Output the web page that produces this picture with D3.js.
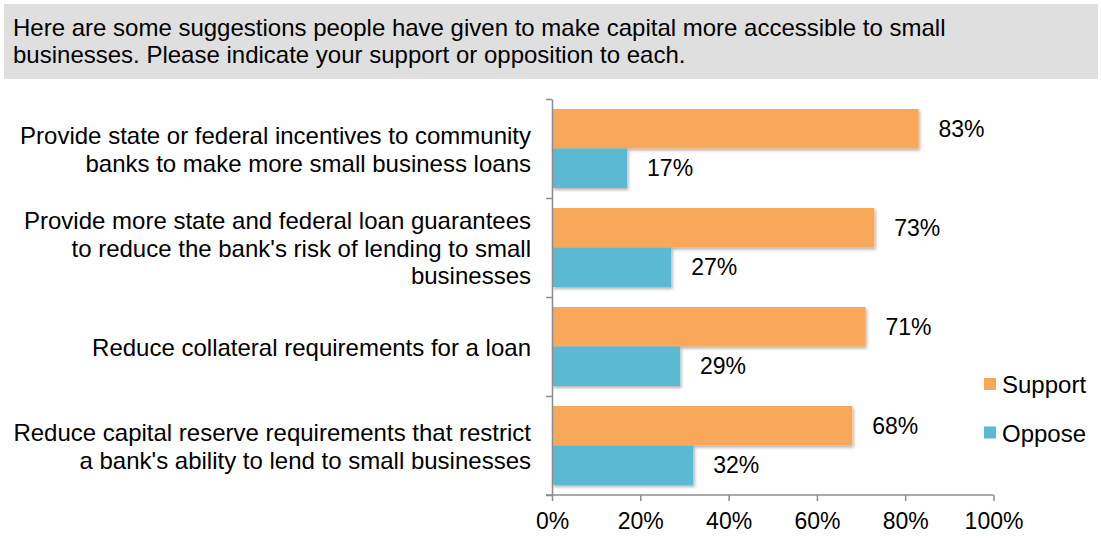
<!DOCTYPE html>
<html>
<head>
<meta charset="utf-8">
<script src="https://cdn.jsdelivr.net/npm/d3@7"></script>
<style>
  body { margin: 0; background: #fff; }
  svg text { font-family: "Liberation Sans", Arial, Helvetica, sans-serif; fill: #000; }
</style>
</head>
<body>
<div id="chart"></div>
<script>
// chart data
var categories = [
  ["Provide state or federal incentives to community", "banks to make more small business loans"],
  ["Provide more state and federal loan guarantees", "to reduce the bank's risk of lending to small", "businesses"],
  ["Reduce collateral requirements for a loan"],
  ["Reduce capital reserve requirements that restrict", "a bank's ability to lend to small businesses"]
]
var support = [83, 73, 71, 68]
var oppose = [17, 27, 29, 32]
var seriesNames = ["Support", "Oppose"]
var seriesColors = ["#f9a85a", "#5bb9d4"]
var xTicks = [0, 20, 40, 60, 80, 100]
var title = [
  "Here are some suggestions people have given to make capital more accessible to small",
  "businesses. Please indicate your support or opposition to each."
]

var width = 1101
var height = 539

var svg = d3.select("#chart")
  .append("svg")
    .attr("width", width)
    .attr("height", height)

// drop shadow for the bars
var defs = svg.append("defs")
var filter = defs.append("filter").attr("id", "shadow")
  .attr("x", "-5%").attr("y", "-20%").attr("width", "120%").attr("height", "150%")
filter.append("feDropShadow")
  .attr("dx", 1.5).attr("dy", 2).attr("stdDeviation", 1.5)
  .attr("flood-color", "#000").attr("flood-opacity", 0.3)

// header box
svg.append("rect")
  .attr("x", 4).attr("y", 4)
  .attr("width", 1094).attr("height", 75)
  .attr("fill", "#dfdfdf")

svg.append("g").selectAll("text")
  .data(title)
  .enter()
  .append("text")
    .attr("x", 13)
    .attr("y", function(d, i) { return 36 + i * 27 })
    .style("font-size", "24px")
    .text(function(d) { return d })

// scales
var x = d3.scaleLinear().domain([0, 100]).range([552, 993.5])
var y = d3.scaleBand().domain(d3.range(categories.length)).range([99, 495])
var yEdge = d3.scaleLinear().domain([0, categories.length]).range([99, 495])
var barH = 39.5

// bars
var rows = svg.append("g").selectAll("g")
  .data(categories.map(function(c, i) { return { i: i, vals: [support[i], oppose[i]] } }))
  .enter()
  .append("g")
    .attr("transform", function(d) { return "translate(0," + y(d.i) + ")" })

rows.selectAll("rect")
  .data(function(d) { return d.vals })
  .enter()
  .append("rect")
    .attr("x", x(0))
    .attr("y", function(d, k) { return 10 + k * barH })
    .attr("width", function(d) { return x(d) - x(0) })
    .attr("height", barH)
    .attr("fill", function(d, k) { return seriesColors[k] })
    .attr("filter", "url(#shadow)")

rows.selectAll("text.val")
  .data(function(d) { return d.vals })
  .enter()
  .append("text")
    .attr("class", "val")
    .attr("x", function(d) { return x(d) + 20 })
    .attr("y", function(d, k) { return 10 + k * barH + barH / 2 })
    .attr("dy", "0.35em")
    .style("font-size", "23px")
    .text(function(d) { return d + "%" })

// category labels
var lineH = 27.5
rows.append("text")
    .attr("text-anchor", "end")
    .style("font-size", "24px")
  .selectAll("tspan")
  .data(function(d) { return categories[d.i] })
  .enter()
  .append("tspan")
    .attr("x", 531)
    .attr("y", function(d, k, nodes) {
      var n = nodes.length
      return y.bandwidth() / 2 + 1 + (k - (n - 1) / 2) * lineH
    })
    .attr("dy", "0.35em")
    .text(function(d) { return d })

// axes
var axisColor = "#8c8c8c"
var xAxis = svg.append("g")
  .attr("transform", "translate(0,495)")
  .call(d3.axisBottom(x).tickValues(xTicks).tickSize(6).tickSizeOuter(0)
    .tickFormat(function(d) { return d + "%" }))
xAxis.select(".domain").remove()
xAxis.append("line")
  .attr("x1", 546).attr("x2", x(100)).attr("y1", 0).attr("y2", 0)
  .attr("stroke", axisColor).attr("stroke-width", 1.5)
xAxis.selectAll(".tick line").attr("stroke", axisColor).attr("stroke-width", 1.5)
xAxis.selectAll(".tick text")
  .attr("y", 18)
  .style("font-size", "23px")
  .style("font-family", "'Liberation Sans', Arial, sans-serif")
  .attr("fill", "#000")

var yAxis = svg.append("g")
  .attr("transform", "translate(552,0)")
  .call(d3.axisLeft(yEdge).tickValues(d3.range(categories.length + 1)).tickSize(6).tickSizeOuter(0)
    .tickFormat(""))
yAxis.select(".domain").attr("stroke", axisColor).attr("stroke-width", 1.5)
yAxis.selectAll(".tick line").attr("stroke", axisColor).attr("stroke-width", 1.5)

// legend
var legend = svg.append("g").selectAll("g")
  .data(seriesNames)
  .enter()
  .append("g")
    .attr("transform", function(d, i) { return "translate(984," + (378 + i * 48.5) + ")" })

legend.append("rect")
  .attr("width", 12).attr("height", 12)
  .attr("fill", function(d, i) { return seriesColors[i] })

legend.append("text")
  .attr("x", 18).attr("y", 7).attr("dy", "0.35em")
  .style("font-size", "24px")
  .text(function(d) { return d })
</script>
</body>
</html>
